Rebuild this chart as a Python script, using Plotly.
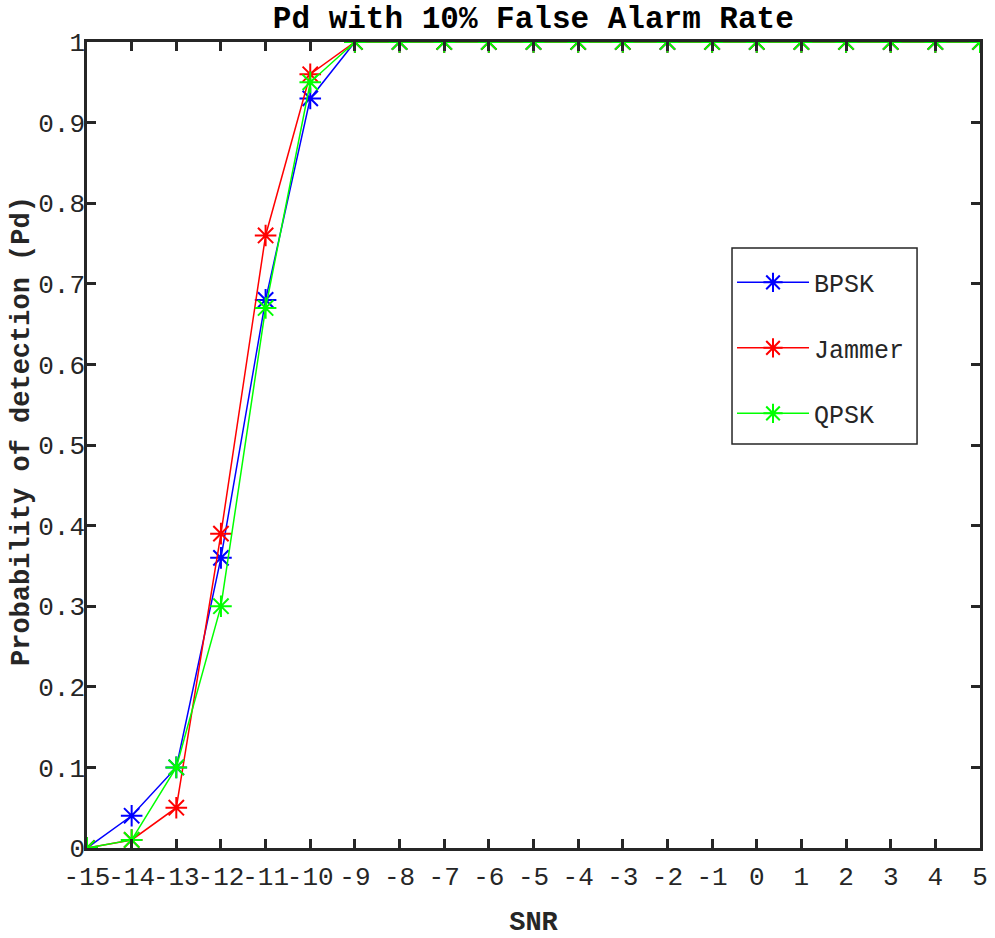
import plotly.graph_objects as go

snr = list(range(-15, 6))
bpsk = [0, 0.04, 0.10, 0.36, 0.68, 0.93] + [1] * 15
jammer = [0, 0.01, 0.05, 0.39, 0.76, 0.96] + [1] * 15
qpsk = [0, 0.01, 0.10, 0.30, 0.67, 0.95] + [1] * 15
yticks = [i / 10 for i in range(11)]
yticktext = ["0"] + [f"0.{i}" for i in range(1, 10)] + ["1"]

series = [("BPSK", bpsk, "#0000ff"), ("Jammer", jammer, "#ff0000"), ("QPSK", qpsk, "#00ff00")]

FONT = "Liberation Mono, Courier New, monospace"
AX = "#262626"
fig = go.Figure()
for name, vals, col in series:
    fig.add_trace(go.Scatter(
        x=snr, y=vals, name=name, mode="lines+markers", legendgroup=name,
        line=dict(color=col, width=1.5),
        marker=dict(symbol="asterisk-open", size=18, line=dict(color=col, width=2)),
    ))

axis_common = dict(
    showline=True, linecolor=AX, linewidth=2.5, mirror="ticks",
    ticks="inside", ticklen=9, tickwidth=2.5, tickcolor=AX,
    showgrid=False, zeroline=False, automargin=False, tickangle=0,
    tickfont=dict(family=FONT, size=26, color=AX),
)
fig.update_xaxes(range=[-15, 5], tickvals=snr, ticktext=[str(v) for v in snr],
                 ticklabelstandoff=3,
                 title=dict(text="<b>SNR</b>", font=dict(family=FONT, size=27, color=AX), standoff=22),
                 **axis_common)
fig.update_yaxes(range=[0, 1], tickvals=yticks, ticktext=yticktext, ticklabelstandoff=-6,
                 **axis_common)

fig.add_annotation(text="<b>Probability of detection (Pd)</b>", textangle=-90,
                   xref="paper", yref="paper", x=0, y=0.5, xanchor="center", yanchor="middle",
                   xshift=-65, yshift=14, showarrow=False,
                   font=dict(family=FONT, size=27, color=AX))

fig.add_shape(type="rect", xref="paper", yref="paper",
              x0=0.7223, x1=0.9295, y0=0.5012, y1=0.7444,
              line=dict(color=AX, width=1.5), fillcolor="rgba(0,0,0,0)")

fig.update_layout(
    width=995, height=938,
    margin=dict(l=87, r=15, t=42, b=90),
    paper_bgcolor="white", plot_bgcolor="white",
    title=dict(text="<b>Pd with 10% False Alarm Rate</b>", x=0.536, xanchor="center",
               y=0.982, yanchor="middle", font=dict(family=FONT, size=31, color="black")),
    legend=dict(x=0.7223, y=0.73, xanchor="left", yanchor="top",
                borderwidth=0, bgcolor="rgba(0,0,0,0)",
                font=dict(family=FONT, size=25, color=AX),
                itemwidth=72, tracegroupgap=30),
    showlegend=True,
)
fig.write_html("out.html")
